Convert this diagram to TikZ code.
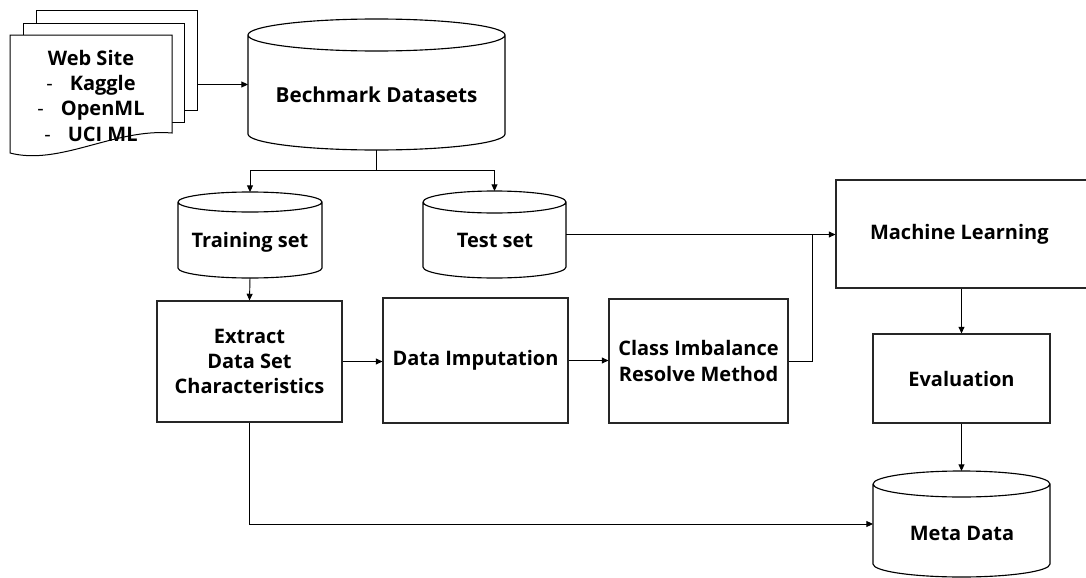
\documentclass[tikz,border=0pt]{standalone}
\usepackage{fontspec}
\setmainfont{Open Sans}
\usetikzlibrary{arrows.meta,calc}

\tikzset{
  sz/.style 2 args={minimum width=#1*0.75pt, minimum height=#2*0.75pt},
  lbl/.style={font=\fontsize{15}{19}\selectfont\bfseries, align=center, inner sep=0pt},
  boxnode/.style={lbl, draw=black!85, line width=0.85pt, fill=white, inner sep=0pt},
  cylbox/.style={inner sep=0pt, outer sep=0pt},
  link/.style={line width=0.7pt, draw=black},
  arr/.style={link, -{Triangle[length=5pt,width=4.5pt]}},
  page/.style={draw=black, line width=0.75pt, fill=white},
}

% cylinder outline around a named node: #1 node, #2 ellipse half-height (px)
\newcommand\cylout[2]{%
  \draw[line width=0.85pt, fill=white] let \p1=(#1.north west), \p2=(#1.south east),
      \n1={(\x2-\x1)/2}, \n2={#2*0.75pt} in
    ({\x1},{\y1-\n2}) -- ({\x1},{\y2+\n2})
      arc[start angle=180, end angle=360, x radius=\n1, y radius=\n2]
      -- ({\x2},{\y1-\n2})
    ({\x1},{\y1-\n2})
      arc[start angle=180, end angle=-180, x radius=\n1, y radius=\n2];
}

\begin{document}
\begin{tikzpicture}[x=0.75pt, y=-0.75pt]
\useasboundingbox (0,0) rectangle (1086,578);

% stacked web pages
\node[page, sz={161}{100}] (back) at (116.5,60) {};
\node[page, sz={161}{99}] (mid) at (103.5,72.5) {};
\draw[page] (10,35) -- (172,35) -- (172,133)
  .. controls (115,128) and (60,166) .. (10,153) -- cycle;
\node[lbl] (web) at (91,95.5)
  {Web Site\\{\mdseries -}\hspace{0.85em}Kaggle\\{\mdseries -}\hspace{0.85em}OpenML\\{\mdseries -}\hspace{0.85em}UCI ML};

% data stores
\node[cylbox, sz={257}{131}] (bench) at (376.5,84.5) {};
\cylout{bench}{16}
\node[lbl, font=\fontsize{15.5}{19}\selectfont\bfseries] (bench-t) at (376.5,95) {Bechmark Datasets};

\node[cylbox, sz={144}{86}] (train) at (250,235) {};
\cylout{train}{10}
\node[lbl] (train-t) at (250,242) {Training set};

\node[cylbox, sz={143}{87}] (test) at (494.5,234.5) {};
\cylout{test}{11}
\node[lbl] (test-t) at (495,240) {Test set};

\node[cylbox, sz={177}{106}] (meta) at (961.5,524) {};
\cylout{meta}{13}
\node[lbl] (meta-t) at (962,533) {Meta Data};

% process boxes
\node[boxnode, sz={185}{121}] (extract) at (249.5,361.5) {Extract\\Data Set\\Characteristics};
\node[boxnode, sz={185}{125}] (impute) at (475.5,360.5) {Data Imputation};
\node[boxnode, sz={179}{124}] (class) at (698.5,361) {Class Imbalance\\Resolve Method};
\node[boxnode, sz={252}{108}] (ml) at (962,234) {\hspace*{-4pt}Machine Learning};
\node[boxnode, sz={177}{89}] (eval) at (961.5,378.5) {Evaluation};

\coordinate (split) at (376.5,170);
\coordinate (join) at (812,234);

% connectors
\draw[arr] (bench.west -| back.east) -- (bench.west);
\draw[link] (bench.south) -- (split);
\draw[arr] (split) -| (train.north);
\draw[arr] (split) -| (test.north);
\draw[arr] (train.south) -- (extract.north);
\draw[arr] (test.east) -- (test.east -| ml.west);
\draw[arr] (extract.east) -- (extract.east -| impute.west);
\draw[arr] (impute.east) -- (impute.east -| class.west);
\draw[link] (class.east) -| (join);
\draw[arr] (ml.south -| eval.north) -- (eval.north);
\draw[arr] (eval.south) -- (meta.north);
\draw[arr] (extract.south) |- (meta.west);
\end{tikzpicture}
\end{document}
